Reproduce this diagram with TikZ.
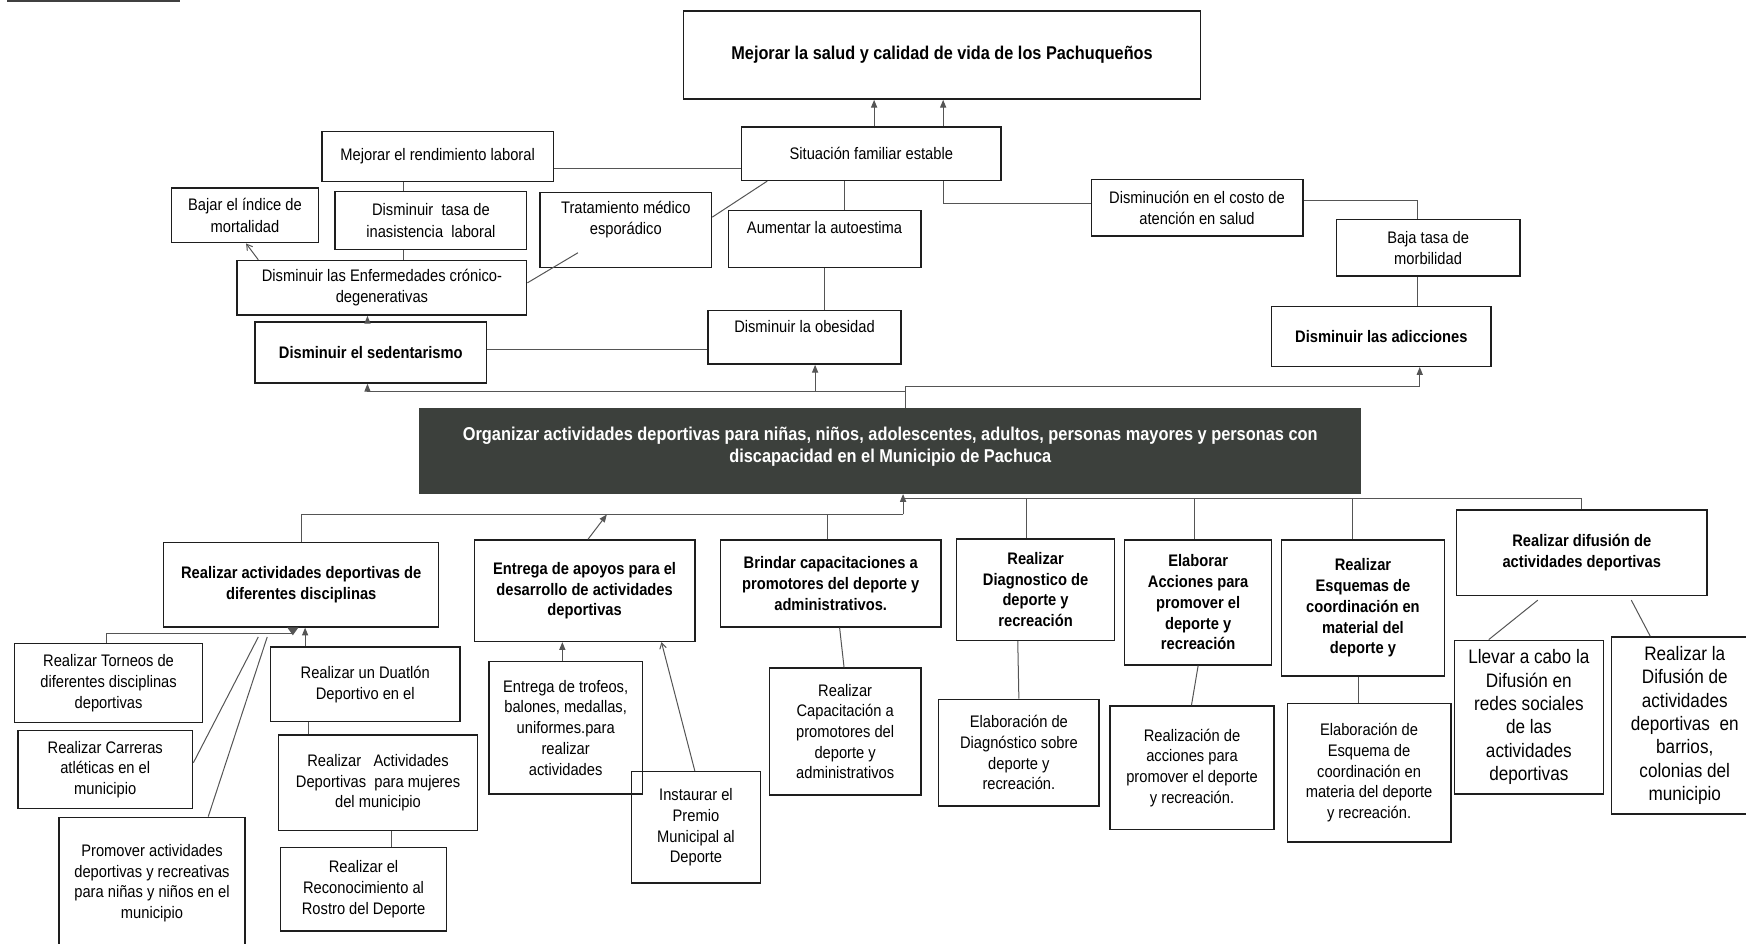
\documentclass[tikz,border=0pt]{standalone}
\usepackage{fontspec}
\setmainfont{Liberation Sans}[FakeStretch=0.88]
\usetikzlibrary{arrows.meta,calc}
\definecolor{ink}{RGB}{30,30,30}
\definecolor{wire}{RGB}{85,85,85}
\definecolor{orgfill}{RGB}{60,64,60}
\newcommand\fsT{\fontsize{15}{19}\selectfont}
\newcommand\fsB{\fontsize{15}{18.6}\selectfont}
\newcommand\fsL{\fontsize{17.5}{21}\selectfont}
\newcommand\bx[7][]{%
  \pgfmathsetmacro\bxw{#5-#3}%
  \pgfmathsetmacro\bxh{#6-#4}%
  \pgfmathsetmacro\bxx{(#3+#5)/2}%
  \pgfmathsetmacro\bxy{(#4+#6)/2}%
  \node[box,minimum width=\bxw pt,minimum height=\bxh pt,#1] (#2) at (\bxx,\bxy) {#7};}
\tikzset{
  box/.style={draw=ink,line width=1.3pt,align=center,inner sep=1pt,font=\fsB},
  txt/.style={align=center,inner sep=0pt,font=\fsT},
  ln/.style={draw=wire,line width=0.9pt},
  arr/.style={ln,-{Triangle[length=7pt,width=5.5pt]}},
  oarr/.style={ln,-{Straight Barb[length=5pt,width=6pt]}},
}
\begin{document}
\begin{tikzpicture}[x=1pt,y=-1pt,line join=miter]
\useasboundingbox (0,0) rectangle (1568,847);
\fill[black!75] (6,0) rectangle (162,1.8);
% ---------- helper coordinates
\foreach \v in {96,174,187,221,232,240,263,274,277,330,352,362,473,505,519,528,545,594,624,641,689,732,740,743,754,758,785,811,813,847,914,915,922,1070,1073,1076,1215,1220,1273,1275,1337,1381,1420,1465,1482}
  {\coordinate (x\v) at (\v,0);}
\foreach \v in {151,180,183,195,227,254,314,347,352,448,462,539,569,572,685,736}
  {\coordinate (y\v) at (0,\v);}
% ---------- upper boxes
\bx[font=\bfseries\fontsize{16.6}{19}\selectfont]{goal}{614}{10}{1078}{89}{Mejorar la salud y calidad de vida de los Pachuqueños}
\bx[font=\fsT]{sit}{666}{114}{899}{162}{Situación familiar estable}
\bx[font=\fsT]{rend}{289}{118}{497}{163}{Mejorar el rendimiento laboral}
\bx[font=\fsT]{bajar}{154}{169}{286}{218}{Bajar el índice de\\mortalidad}
\bx[font=\fsT]{tasa}{301}{172}{473}{224}{Disminuir\ \ tasa de\\inasistencia\ \ laboral}
\bx{trat}{485}{173}{639}{240}{}
\node[txt] (tratT) at ($(trat.north)+(0,25)$) {Tratamiento médico\\esporádico};
\bx{aut}{654}{189}{827}{240}{}
\node[txt] (autT) at ($(aut.north)+(0,16)$) {Aumentar la autoestima};
\bx[font=\fsT]{costo}{980}{161}{1170}{212}{Disminución en el costo de\\atención en salud}
\bx[font=\fsT]{baja}{1200}{197}{1365}{248}{Baja tasa de\\morbilidad}
\bx[font=\fsT]{enf}{213}{234}{473}{283}{Disminuir las Enfermedades crónico-\\degenerativas}
\bx[font=\bfseries\fsT]{sed}{229}{289}{437}{344}{Disminuir el sedentarismo}
\bx{obes}{636}{279}{809}{327}{}
\node[txt] (obesT) at ($(obes.north)+(0,15)$) {Disminuir la obesidad};
\bx[font=\bfseries\fsT]{adic}{1142}{275}{1339}{329}{Disminuir las adicciones}
\bx[fill=orgfill,draw=orgfill]{org}{377}{367}{1222}{443}{}
\node[txt,text=white,font=\bfseries\fontsize{16.7}{19.5}\selectfont] (orgT) at ($(org.center)+(0,-4)$) {Organizar actividades deportivas para niñas, niños, adolescentes, adultos, personas mayores y personas con\\discapacidad en el Municipio de Pachuca};
% ---------- lower boxes
\bx[font=\bfseries\fsB]{ract}{147}{487}{394}{563}{Realizar actividades deportivas de\\diferentes disciplinas}
\bx[font=\bfseries\fsB]{apoy}{426}{485}{624}{576}{Entrega de apoyos para el\\desarrollo de actividades\\deportivas}
\bx[font=\bfseries\fsB]{brin}{647}{485}{845}{563}{Brindar capacitaciones a\\promotores del deporte y\\administrativos.}
\bx[font=\bfseries\fsB]{diag}{859}{484}{1001}{575}{Realizar\\Diagnostico de\\deporte y\\recreación}
\bx[font=\bfseries\fsB]{acc}{1010}{485}{1142}{597}{Elaborar\\Acciones para\\promover el\\deporte y\\recreación}
\bx[font=\bfseries\fsB]{esq}{1151}{485}{1297}{607}{Realizar\\Esquemas de\\coordinación en\\material del\\deporte y}
\bx[font=\bfseries\fsB]{dif}{1308}{458}{1533}{535}{Realizar difusión de\\actividades deportivas}
\bx{torn}{13}{578}{182}{649}{Realizar Torneos de\\diferentes disciplinas\\deportivas}
\bx{carr}{16}{656}{173}{726}{Realizar Carreras\\atléticas en el\\municipio}
\bx{prom}{53}{734}{220}{852}{Promover actividades\\deportivas y recreativas\\para niñas y niños en el\\municipio}
\bx{dua}{243}{581}{413}{648}{Realizar un Duatlón\\Deportivo en el}
\bx{muj}{250}{660}{429}{746}{Realizar\ \ \ Actividades\\Deportivas\ \ para mujeres\\del municipio}
\bx{rec}{252}{761}{401}{836}{Realizar el\\Reconocimiento al\\Rostro del Deporte}
\bx{trof}{439}{594}{577}{713}{Entrega de trofeos,\\balones, medallas,\\uniformes.para\\realizar\\actividades}
\bx{prem}{567}{693}{683}{793}{Instaurar el\\Premio\\Municipal al\\Deporte}
\bx{cap}{691}{600}{827}{714}{Realizar\\Capacitación a\\promotores del\\deporte y\\administrativos}
\bx{ediag}{843}{628}{987}{724}{Elaboración de\\Diagnóstico sobre\\deporte y\\recreación.}
\bx{racc}{997}{634}{1144}{745}{Realización de\\acciones para\\promover el deporte\\y recreación.}
\bx{eesq}{1156}{632}{1303}{756}{Elaboración de\\Esquema de\\coordinación en\\materia del deporte\\y recreación.}
\bx[font=\fsL]{redes}{1306}{575}{1440}{713}{Llevar a cabo la\\Difusión en\\redes sociales\\de las\\actividades\\deportivas}
\bx[font=\fsL]{barr}{1447}{572}{1579}{731}{Realizar la\\Difusión de\\actividades\\deportivas\ \ en\\barrios,\\colonias del\\municipio}
% ---------- upper connectors
\draw[arr] (sit.north -| x785) -- (goal.south -| x785);
\draw[arr] (sit.north -| x847) -- (goal.south -| x847);
\draw[ln] (rend.east |- y151) -- (sit.west |- y151);
\draw[ln] (rend.south -| x362) -- (tasa.north -| x362);
\draw[ln] (tasa.south -| x362) -- (enf.north -| x362);
\draw[oarr] (enf.north -| x232) -- (bajar.south -| x221);
\draw[arr] (sed.north -| x330) -- (enf.south -| x330);
\draw[ln] (enf.east |- y254) -- (x519 |- y227);
\draw[ln] (trat.east |- y195) -- (sit.south -| x689);
\draw[ln] (sit.south -| x758) -- (aut.north -| x758);
\draw[ln] (aut.south -| x740) -- (obes.north -| x740);
\draw[ln] (sit.south -| x847) |- (costo.west |- y183);
\draw[ln] (costo.east |- y180) -| (baja.north -| x1273);
\draw[ln] (baja.south -| x1273) -- (adic.north -| x1273);
\draw[ln] (sed.east |- y314) -- (obes.west |- y314);
\draw[ln] (org.north -| x813) -- (x813 |- y347);
\draw[arr] (x813 |- y347) -| (adic.south -| x1275);
\draw[arr] (x813 |- y352) -| (sed.south -| x330);
\draw[arr] (x732 |- y352) -- (obes.south -| x732);
% ---------- lower connectors
\draw[arr] (x811 |- y462) -- (org.south -| x811);
\draw[ln] (x811 |- y462) -- (x811 |- y448) -| (dif.north -| x1420);
\draw[ln] (x811 |- y462) -| (ract.north);
\draw[ln] (brin.north -| x743) -- (x743 |- y462);
\draw[arr] (apoy.north -| x528) -- (x545 |- y462);
\draw[ln] (x922 |- y448) -- (diag.north -| x922);
\draw[ln] (x1073 |- y448) -- (acc.north -| x1073);
\draw[ln] (x1215 |- y448) -- (esq.north -| x1215);
\draw[ln] (torn.north -| x96) |- (x263 |- y569);
\fill[wire] (258,563.5) -- (268,563.5) -- (263,570.5) -- cycle;
\draw[arr] (dua.north -| x274) -- (ract.south -| x274);
\draw[ln] (carr.east |- y685) -- (x232 |- y572);
\draw[ln] (prom.north -| x187) -- (x240 |- y572);
\draw[ln] (dua.south -| x277) -- (muj.north -| x277);
\draw[ln] (muj.south -| x352) -- (rec.north -| x352);
\draw[arr] (trof.north -| x505) -- (apoy.south -| x505);
\draw[oarr] (prem.north -| x624) -- (apoy.south -| x594);
\draw[ln] (brin.south -| x754) -- (cap.north -| x758);
\draw[ln] (diag.south -| x914) -- (ediag.north -| x915);
\draw[ln] (acc.south -| x1076) -- (racc.north -| x1070);
\draw[ln] (esq.south -| x1220) -- (eesq.north -| x1220);
\draw[ln] (x1381 |- y539) -- (redes.north -| x1337);
\draw[ln] (x1465 |- y539) -- (barr.north -| x1482);
\end{tikzpicture}
\end{document}
